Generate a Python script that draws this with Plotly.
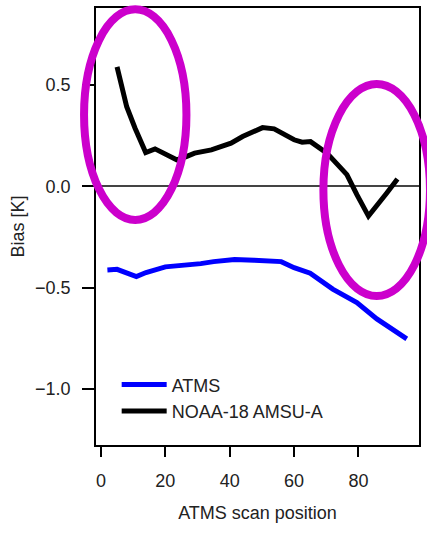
import plotly.graph_objects as go

# ---- data ----
atms_scan = [2, 5, 11, 14, 20, 25, 31, 35, 41.5, 47.6, 56, 60, 65, 72, 79.5, 85.7, 95]
atms_bias = [-0.413, -0.41, -0.446, -0.426, -0.398, -0.393, -0.382, -0.372, -0.361,
             -0.365, -0.372, -0.402, -0.429, -0.508, -0.574, -0.655, -0.754]

noaa_scan = [5, 8, 10.6, 13.9, 16.8, 23.5, 26.5, 29.1, 34.3, 40.4, 44, 46.6, 50.2,
             53.8, 60, 62.5, 65.1, 70.2, 76.4, 79.5, 83.1, 88.8, 92.1]
noaa_bias = [0.59, 0.393, 0.287, 0.167, 0.185, 0.131, 0.147, 0.164, 0.18, 0.213,
             0.246, 0.262, 0.29, 0.284, 0.23, 0.218, 0.221, 0.164, 0.058, -0.041,
             -0.147, -0.033, 0.036]

series_names = ["ATMS", "NOAA-18 AMSU-A"]
x_ticks = [0, 20, 40, 60, 80]
y_ticks = [-1.0, -0.5, 0.0, 0.5]

# highlight ellipses (paper coordinates: x0, y0, x1, y1)
highlights = [(-0.037, 0.515, 0.280, 0.997),
              (0.704, 0.341, 1.034, 0.826)]

FONT = "Liberation Sans, Arial, Helvetica, sans-serif"

fig = go.Figure()
fig.add_trace(go.Scatter(x=atms_scan, y=atms_bias, mode="lines", name=series_names[0],
                         line=dict(color="#0000ff", width=5)))
fig.add_trace(go.Scatter(x=noaa_scan, y=noaa_bias, mode="lines", name=series_names[1],
                         line=dict(color="#000000", width=5)))

for (x0, y0, x1, y1) in highlights:
    fig.add_shape(type="circle", xref="paper", yref="paper", x0=x0, y0=y0, x1=x1, y1=y1,
                  line=dict(color="#cc00cc", width=8), layer="above")

fig.update_layout(
    width=427, height=534,
    margin=dict(l=96, r=6, t=6, b=89),
    paper_bgcolor="white", plot_bgcolor="white",
    font=dict(family=FONT, size=18, color="#222"),
    showlegend=True,
    legend=dict(x=0.064, y=0.18, xanchor="left", yanchor="top",
                bgcolor="rgba(0,0,0,0)", borderwidth=0,
                font=dict(size=18, color="#222"), itemwidth=45, tracegroupgap=0),
    xaxis=dict(range=[-1.54, 98.8], tickvals=x_ticks, ticks="outside", ticklen=10,
               tickwidth=1.5, tickcolor="black", showline=True, linecolor="black",
               linewidth=1.5, mirror=True, showgrid=False, zeroline=False,
               ticklabelstandoff=9,
               title=dict(text="ATMS scan position", standoff=16, font=dict(size=18))),
    yaxis=dict(range=[-1.278, 0.881], tickvals=y_ticks, tickformat=".1f",
               ticks="outside", ticklen=12, tickwidth=1.5, tickcolor="black",
               showline=True, linecolor="black", linewidth=1.5, mirror=True,
               showgrid=False, zeroline=True, zerolinecolor="#444", zerolinewidth=2,
               ticklabelstandoff=8,
               title=dict(text="Bias [K]", standoff=6, font=dict(size=18))),
)

fig.write_html("out.html")
